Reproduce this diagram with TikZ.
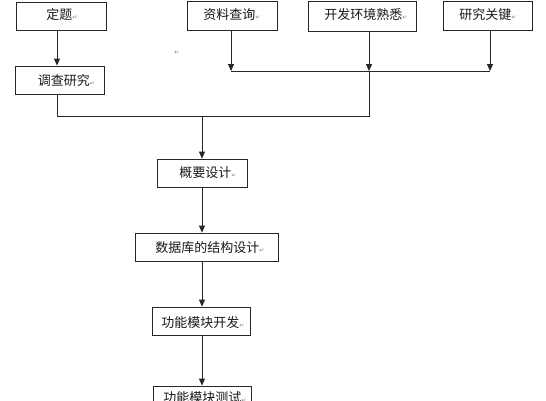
\documentclass[tikz,border=0pt]{standalone}
\usepackage{fontspec}
\newfontfamily\cjk{Noto Sans CJK SC}
\newfontfamily\dejavu{DejaVu Sans}
\usetikzlibrary{arrows.meta}
\newcommand{\parmark}{{\color{gray}\dejavu\fontsize{6}{6}\selectfont ↵}}
\tikzset{
  box/.style={draw=black!85, line width=0.8pt, rectangle, inner sep=0pt},
  lbl/.style={font=\cjk\fontsize{13}{13}\selectfont, inner sep=0pt, text=black!90},
  conn/.style={draw=black!85, line width=0.8pt},
  arr/.style={conn, -{Triangle[width=6pt,length=7pt]}}
}
\begin{document}
\begin{tikzpicture}[x=1pt,y=-1pt]
\useasboundingbox (0,0) rectangle (546,400);
\clip (0,0) rectangle (546,400);
\fill[white] (0,0) rectangle (546,400);
% boxes
\node[box, minimum width=90pt, minimum height=28pt] (dt) at (61,16) {};
\node[box, minimum width=89pt, minimum height=28pt] (dc) at (59.5,80) {};
\node[box, minimum width=90pt, minimum height=29pt] (zl) at (232,15.5) {};
\node[box, minimum width=108pt, minimum height=30pt] (kf) at (362,16) {};
\node[box, minimum width=89pt, minimum height=29pt] (yj) at (487.5,15.5) {};
\node[box, minimum width=90pt, minimum height=28pt] (gy) at (202,173) {};
\node[box, minimum width=143pt, minimum height=28pt] (sj) at (206.5,247) {};
\node[box, minimum width=98pt, minimum height=28pt] (gk) at (201,321) {};
\node[box, minimum width=98pt, minimum height=28pt] (gc) at (202,400) {};
% labels
\node[lbl] (ldt) at (62,15) {定题\parmark};
\node[lbl] (ldc) at (66.5,81) {调查研究\parmark};
\node[lbl] (lzl) at (232,14.5) {资料查询\parmark};
\node[lbl] (lkf) at (366,15) {开发环境熟悉\parmark};
\node[lbl] (lyj) at (488,14.5) {研究关键\parmark};
\node[lbl] (lgy) at (208,173) {概要设计\parmark};
\node[lbl] (lsj) at (210,248) {数据库的结构设计\parmark};
\node[lbl] (lgk) at (203,323) {功能模块开发\parmark};
\node[lbl] (lgc) at (205,398) {功能模块测试\parmark};
\node[inner sep=0pt] (stray) at (177,53) {\parmark};
% junction coordinates
\coordinate (m1) at (57,116);
\coordinate (m2) at (369,116);
\coordinate (m3) at (370,116);
\coordinate (t1) at (231,71);
\coordinate (t2) at (369,71);
\coordinate (t3) at (490,71);
\coordinate (g) at (202,116);
% connectors
\draw[arr] (dt.south -| m1) -- (dc.north -| m1);
\draw[conn] (dc.south -| m1) -- (m1) -- (m3);
\draw[arr] (zl.south -| t1) -- (t1);
\draw[arr] (kf.south -| t2) -- (t2);
\draw[arr] (yj.south -| t3) -- (t3);
\draw[conn] (t1) -- (t3);
\draw[conn] (t2) -- (m2);
\draw[arr] (g) -- (gy.north -| g);
\draw[arr] (gy.south -| g) -- (sj.north -| g);
\draw[arr] (sj.south -| g) -- (gk.north -| g);
\draw[arr] (gk.south -| g) -- (gc.north -| g);
\end{tikzpicture}
\end{document}
